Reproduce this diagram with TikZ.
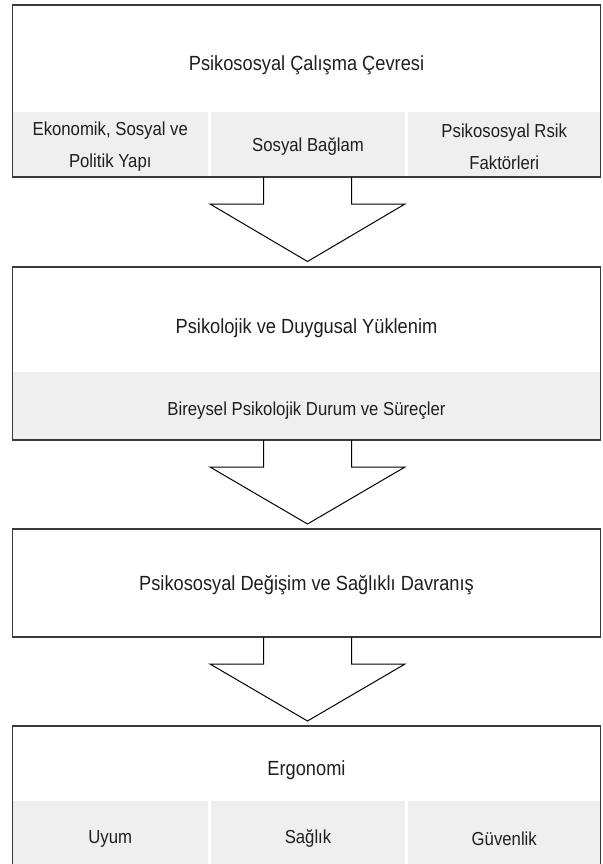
\documentclass[tikz,border=0pt]{standalone}
\usepackage{fontspec}
\setmainfont{Liberation Sans}[FakeStretch=0.89]
\usetikzlibrary{calc}
\definecolor{cellgray}{HTML}{EFEFEF}
\definecolor{boxline}{HTML}{3A3A3A}
\definecolor{txt}{HTML}{1E1E1E}
\begin{document}
\begin{tikzpicture}[x=1pt,y=-1pt,
  boxframe/.style={draw=boxline, line width=1.3pt, inner sep=0pt, outer sep=0pt, minimum width=588pt},
  cell/.style={fill=cellgray, inner sep=0pt, outer sep=0pt, minimum height=65pt},
  maintext/.style={text=txt, inner sep=0pt, font=\fontsize{20.5}{24}\selectfont},
  subtext/.style={text=txt, inner sep=0pt, align=center, font=\fontsize{18.8}{32}\selectfont},
  arrowline/.style={draw=black, line width=1pt, line join=miter}]
\useasboundingbox (0,0) rectangle (602,864);

% ---- Box 1
\node[cell, minimum width=195.5pt] (c11) at (110.25,144.5) {};
\node[cell, minimum width=194pt] (c12) at (308,144.5) {};
\node[cell, minimum width=192.5pt] (c13) at (504.25,144.5) {};
\node[subtext] (s11) at (110.25,147) {Ekonomik, Sosyal ve\\Politik Yapı};
\node[subtext] (s12) at (308,146.5) {Sosyal Bağlam};
\node[subtext] (s13) at (504.25,147) {Psikososyal Rsik\\Faktörleri};
\node[boxframe, minimum height=172pt] (b1) at (306.5,91) {};
\node[maintext] (t1) at (306.5,65.5) {Psikososyal Çalışma Çevresi};

% ---- Box 2
\node[cell, minimum width=588pt, minimum height=68pt] (c21) at (306.5,406) {};
\node[subtext] (s21) at (306.5,411) {Bireysel Psikolojik Durum ve Süreçler};
\node[boxframe, minimum height=173pt] (b2) at (306.5,353.5) {};
\node[maintext] (t2) at (306.5,328.5) {Psikolojik ve Duygusal Yüklenim};

% ---- Box 3
\node[boxframe, minimum height=108pt] (b3) at (306.5,583) {};
\node[maintext] (t3) at (306.5,585) {Psikososyal Değişim ve Sağlıklı Davranış};

% ---- Box 4
\node[cell, minimum width=195.5pt] (c41) at (110.25,833.5) {};
\node[cell, minimum width=194pt] (c42) at (308,833.5) {};
\node[cell, minimum width=192.5pt] (c43) at (504.25,833.5) {};
\node[subtext] (s41) at (110.25,838.5) {Uyum};
\node[subtext] (s42) at (308,838.5) {Sağlık};
\node[subtext] (s43) at (504.25,838.5) {Güvenlik};
\node[boxframe, minimum height=140pt] (b4) at (306.5,796) {};
\node[maintext] (t4) at (306.5,770) {Ergonomi};

% ---- Block arrows
\coordinate (a1) at ($(b1.south)+(1,0)$);
\draw[arrowline] ($(a1)+(-44,0)$) -- ++(0,27) -- ++(-53.5,0) -- ($(b2.north)+(1,-5.5)$)
  -- ($(a1)+(97.5,27)$) -- ++(-53.5,0) -- ($(a1)+(44,0)$);
\coordinate (a2) at ($(b2.south)+(1,0)$);
\draw[arrowline] ($(a2)+(-44,0)$) -- ++(0,27) -- ++(-53.5,0) -- ($(b3.north)+(1,-5)$)
  -- ($(a2)+(97.5,27)$) -- ++(-53.5,0) -- ($(a2)+(44,0)$);
\coordinate (a3) at ($(b3.south)+(1,0)$);
\draw[arrowline] ($(a3)+(-44,0)$) -- ++(0,27) -- ++(-53.5,0) -- ($(b4.north)+(1,-5)$)
  -- ($(a3)+(97.5,27)$) -- ++(-53.5,0) -- ($(a3)+(44,0)$);
\end{tikzpicture}
\end{document}
